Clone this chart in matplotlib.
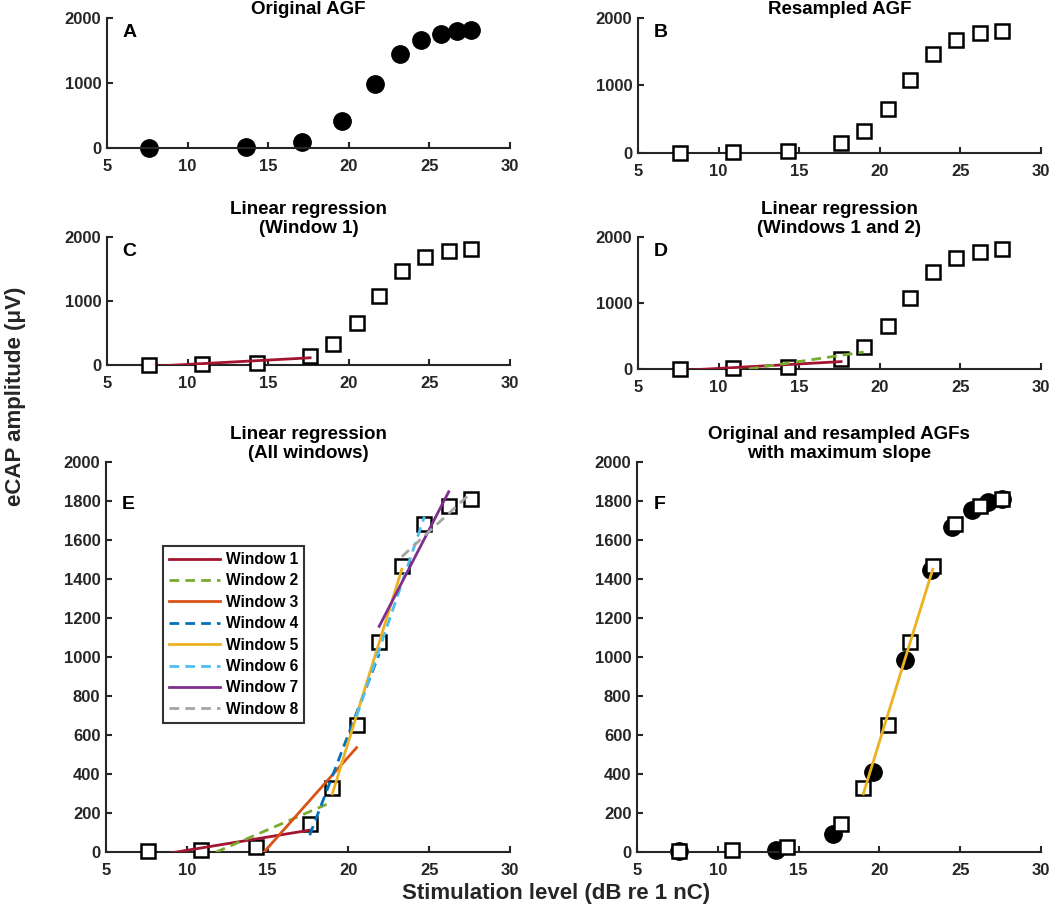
import matplotlib
matplotlib.use("Agg")
import matplotlib.pyplot as plt

plt.rcParams['font.family'] = ['Liberation Sans', 'DejaVu Sans']
plt.rcParams['font.weight'] = 'bold'

# original AGF (filled circles)
orig_x = [7.6, 13.6, 17.1, 19.6, 21.6, 23.2, 24.5, 25.7, 26.7, 27.6]
orig_y = [5, 10, 90, 410, 985, 1445, 1665, 1755, 1795, 1810]

# resampled AGF (open squares)
res_x = [7.6, 10.9, 14.3, 17.6, 19.0, 20.5, 21.9, 23.3, 24.7, 26.2, 27.6]
res_y = [5, 8, 25, 145, 330, 650, 1075, 1465, 1680, 1775, 1810]

# regression line endpoints for each window
win_names = ['Window 1', 'Window 2', 'Window 3', 'Window 4',
             'Window 5', 'Window 6', 'Window 7', 'Window 8']
win_x0 = [7.6, 10.9, 14.3, 17.6, 19.0, 20.5, 21.9, 23.3]
win_x1 = [17.6, 19.0, 20.5, 21.9, 23.3, 24.7, 26.2, 27.6]
win_y0 = [-24, -33, -45, 86, 298, 695, 1157, 1514]
win_y1 = [112, 257, 535, 1016, 1450, 1720, 1847, 1843]
win_colors = ['#A2142F', '#77AC30', '#D95319', '#0072BD',
              '#EDB120', '#4DBEEE', '#7E2F8E', '#A5A5A5']
win_dashed = [False, True, False, True, False, True, False, True]

axcol = '#262626'

fig = plt.figure(figsize=(10.5, 9.17), dpi=100)

rects = {
    'A': [0.1019, 0.8386, 0.3838, 0.1418],
    'B': [0.6076, 0.8332, 0.3838, 0.1472],
    'C': [0.1019, 0.6020, 0.3838, 0.1396],
    'D': [0.6076, 0.5976, 0.3838, 0.1440],
    'E': [0.1010, 0.0709, 0.3848, 0.4253],
    'F': [0.6067, 0.0709, 0.3848, 0.4253],
}
titles = {
    'A': 'Original AGF',
    'B': 'Resampled AGF',
    'C': 'Linear regression\n(Window 1)',
    'D': 'Linear regression\n(Windows 1 and 2)',
    'E': 'Linear regression\n(All windows)',
    'F': 'Original and resampled AGFs\nwith maximum slope',
}

axes = {}
for key, r in rects.items():
    ax = fig.add_axes(r)
    ax.set_xlim(5, 30)
    ax.set_ylim(0, 2000)
    ax.set_xticks([5, 10, 15, 20, 25, 30])
    if key in 'ABCD':
        ax.set_yticks([0, 1000, 2000])
    else:
        ax.set_yticks(range(0, 2001, 200))
    for s in ['top', 'right']:
        ax.spines[s].set_visible(False)
    for s in ['left', 'bottom']:
        ax.spines[s].set_linewidth(1.5)
        ax.spines[s].set_color(axcol)
    ax.tick_params(direction='in', length=4, width=1.5, colors=axcol,
                   labelsize=12)
    ax.tick_params(axis='x', pad=8)
    ax.tick_params(axis='y', pad=4)
    for lab in ax.get_xticklabels() + ax.get_yticklabels():
        lab.set_fontweight('bold')
    ax.set_title(titles[key], fontsize=13.5, fontweight='bold', pad=1,
                 linespacing=1.15)
    ax.text(6.4, 1780, key, fontsize=14, fontweight='bold',
            ha='center', va='center')
    axes[key] = ax


def squares(ax):
    ax.plot(res_x, res_y, 's', ms=10, mfc='white', mec='black', mew=1.8,
            ls='none', zorder=3, clip_on=False)


def circles(ax):
    ax.plot(orig_x, orig_y, 'o', ms=12.5, color='black', ls='none',
            zorder=2, clip_on=False)


def window(ax, i, label=None):
    kw = dict(color=win_colors[i], lw=2, zorder=4, label=label)
    if win_dashed[i]:
        kw['dashes'] = (3.5, 2.2)
    ax.plot([win_x0[i], win_x1[i]], [win_y0[i], win_y1[i]], **kw)


circles(axes['A'])
squares(axes['B'])
squares(axes['C'])
window(axes['C'], 0)
squares(axes['D'])
window(axes['D'], 0)
window(axes['D'], 1)
squares(axes['E'])
for i in range(8):
    window(axes['E'], i, win_names[i])
circles(axes['F'])
squares(axes['F'])
window(axes['F'], 4)

leg = axes['E'].legend(loc='upper left', bbox_to_anchor=(0.14, 0.785),
                       fontsize=11.2, frameon=True, fancybox=False,
                       handlelength=3.3, labelspacing=0.41,
                       handletextpad=0.35, borderpad=0.4,
                       borderaxespad=0)
leg.get_frame().set_edgecolor('black')
leg.get_frame().set_linewidth(1.5)
for t in leg.get_texts():
    t.set_fontweight('bold')

fig.text(0.015, 1 - 396 / 917, 'eCAP amplitude (\u03bcV)', rotation=90,
         ha='center', va='center', fontsize=16, fontweight='bold',
         color=axcol)
fig.text(0.53, 1 - 894 / 917, 'Stimulation level (dB re 1 nC)',
         ha='center', va='center', fontsize=16, fontweight='bold',
         color=axcol)

fig.savefig('out.png', dpi=100)
